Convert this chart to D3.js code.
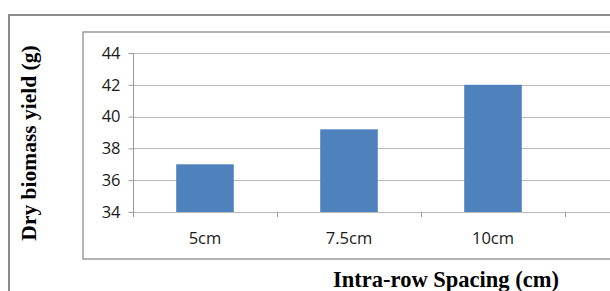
<!DOCTYPE html>
<html>
<head>
<meta charset="utf-8">
<script src="https://cdn.jsdelivr.net/npm/d3@7"></script>
<style>
  body { margin: 0; background: #fff; }
  svg { display: block; }
</style>
</head>
<body>
<div id="chart"></div>
<script>
const categories = ['5cm', '7.5cm', '10cm'];
const yields = [37.0, 39.2, 42.0];
const yTicks = [34, 36, 38, 40, 42, 44];

const width = 610, height = 291;
const svg = d3.select('#chart').append('svg')
  .attr('width', width)
  .attr('height', height);

// outer frame (runs off the right and bottom edges)
svg.append('rect')
  .attr('x', 9).attr('y', 15)
  .attr('width', 640).attr('height', 300)
  .attr('fill', 'none')
  .attr('stroke', '#8c8c8c')
  .attr('stroke-width', 2);

// inner chart frame
svg.append('rect')
  .attr('x', 83).attr('y', 32)
  .attr('width', 600).attr('height', 227)
  .attr('fill', 'none')
  .attr('stroke', '#9a9a9a')
  .attr('stroke-width', 1.5);

const plot = { left: 133, right: 565, top: 53, bottom: 212 };

const x = d3.scaleBand()
  .domain(categories)
  .range([plot.left, plot.right])
  .paddingInner(0.6)
  .paddingOuter(0.3);

const y = d3.scaleLinear()
  .domain([34, 44])
  .range([plot.bottom, plot.top]);

// gridlines, running out to the right edge
svg.append('g')
  .selectAll('line')
  .data(yTicks)
  .enter()
  .append('line')
  .attr('x1', plot.left).attr('x2', width)
  .attr('y1', d => Math.round(y(d)) + 0.5)
  .attr('y2', d => Math.round(y(d)) + 0.5)
  .attr('stroke', '#b8b8b8')
  .attr('stroke-width', 1);

// bars
svg.append('g')
  .selectAll('rect')
  .data(yields)
  .enter()
  .append('rect')
  .attr('x', (d, i) => x(categories[i]))
  .attr('y', d => y(d))
  .attr('width', x.bandwidth())
  .attr('height', d => plot.bottom - y(d))
  .attr('fill', '#4f81bd');

const tickFont = "'Open Sans', 'Noto Sans', sans-serif";
const titleFont = "'Liberation Serif', 'DejaVu Serif', serif";

// y axis
const yAxis = svg.append('g')
  .attr('transform', `translate(${plot.left + 0.5},0)`)
  .call(d3.axisLeft(y).tickValues(yTicks).tickSize(5).tickPadding(8));
yAxis.select('.domain').attr('stroke', '#9a9a9a').attr('d', `M0,${plot.top}V${plot.bottom + 5}`);
yAxis.selectAll('.tick line').attr('stroke', '#9a9a9a');
yAxis.selectAll('.tick text')
  .attr('font-family', tickFont)
  .attr('font-size', 16.5)
  .attr('fill', '#1a1a1a');

// x axis: category boundary ticks
const bounds = d3.range(categories.length + 1).map(i => plot.left + i * x.step());
svg.append('g')
  .selectAll('line')
  .data(bounds.slice(1))
  .enter()
  .append('line')
  .attr('x1', d => Math.round(d) + 0.5).attr('x2', d => Math.round(d) + 0.5)
  .attr('y1', plot.bottom).attr('y2', plot.bottom + 5)
  .attr('stroke', '#9a9a9a');

svg.append('g')
  .selectAll('text')
  .data(categories)
  .enter()
  .append('text')
  .attr('x', d => x(d) + x.bandwidth() / 2)
  .attr('y', 244)
  .attr('text-anchor', 'middle')
  .attr('font-family', tickFont)
  .attr('font-size', 16.5)
  .attr('fill', '#1a1a1a')
  .text(d => d);

// axis titles
svg.append('text')
  .attr('x', 446).attr('y', 287)
  .attr('text-anchor', 'middle')
  .attr('font-family', titleFont)
  .attr('font-weight', 'bold')
  .attr('font-size', 22.5)
  .text('Intra-row Spacing (cm)');

svg.append('text')
  .attr('transform', 'translate(36,143) rotate(-90)')
  .attr('text-anchor', 'middle')
  .attr('font-family', titleFont)
  .attr('font-weight', 'bold')
  .attr('font-size', 21.5)
  .text('Dry biomass yield (g)');
</script>
</body>
</html>
